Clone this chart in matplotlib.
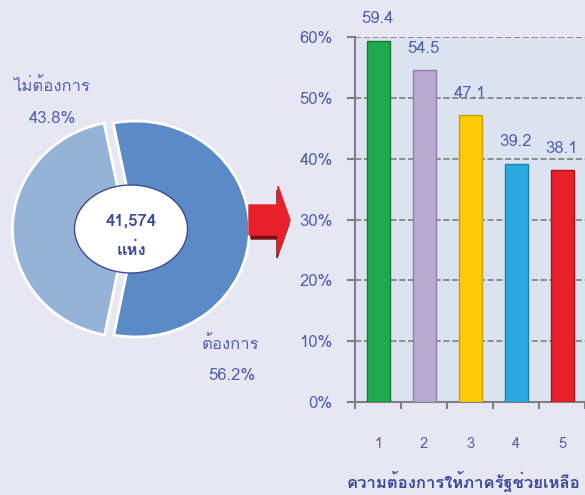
import matplotlib
matplotlib.use("Agg")
import matplotlib.pyplot as plt
from matplotlib import font_manager
from matplotlib.ft2font import FT2Font
from matplotlib.patches import Ellipse, FancyArrow

# data
pie_labels = ["ต้องการ", "ไม่ต้องการ"]
pie_values = [56.2, 43.8]
pie_colors = ["#5B8BC7", "#95B3D7"]
total_text = "41,574"
unit_text = "แห่ง"

bar_cats = ["1", "2", "3", "4", "5"]
bar_values = [59.4, 54.5, 47.1, 39.2, 38.1]
bar_colors = ["#1FAA4F", "#B9A8D0", "#FFCA08", "#2BAAE2", "#E8202A"]
bar_edges = ["#127A36", "#8E7FA5", "#C9A000", "#1A7FAE", "#A81218"]
y_ticks = [0, 10, 20, 30, 40, 50, 60]
x_title = "ความต้องการให้ภาครัฐช่วยเหลือ"

# find something that can draw Thai
thai_font = None
for f in font_manager.fontManager.ttflist:
    try:
        if 0x0E01 in FT2Font(f.fname).get_charmap():
            thai_font = f.name
            break
    except Exception:
        pass
fams = [thai_font, "DejaVu Sans"] if thai_font else ["DejaVu Sans"]
plt.rcParams["font.family"] = fams

txt = "#5262AE"
dark_txt = "#3C4A9A"
W, H = 585, 495

fig = plt.figure(figsize=(W / 100, H / 100), dpi=100)
fig.patch.set_facecolor("#E7E7F3")

def box(x0, y0, x1, y1):
    # pixel box (top-down y) -> figure fraction
    return [x0 / W, 1 - y1 / H, (x1 - x0) / W, (y1 - y0) / H]

# ---- donut / pie ----
cx, cy, rx, ry = 131, 229, 114, 108
axp = fig.add_axes(box(0, 100, 260, 360))
axp.pie(pie_values, colors=pie_colors, startangle=-101, counterclock=True,
        explode=[0.04, 0.04], wedgeprops=dict(edgecolor="white", linewidth=2))
axp.set_aspect("auto")
axp.set_xlim((0 - cx) / rx, (260 - cx) / rx)
axp.set_ylim((cy - 360) / ry, (cy - 100) / ry)
axp.axis("off")

# overlay in pixel coords
ov = fig.add_axes([0, 0, 1, 1])
ov.set_xlim(0, W)
ov.set_ylim(H, 0)
ov.axis("off")
ov.patch.set_alpha(0)

ov.add_patch(Ellipse((cx, cy), 113, 88, facecolor="white", edgecolor="#3C4A9A", lw=1))
ov.text(cx, 221, total_text, ha="center", va="center", fontsize=12,
        fontweight="bold", color=dark_txt)
ov.text(cx, 250, unit_text, ha="center", va="center", fontsize=12,
        fontweight="bold", color=dark_txt)

ov.text(52, 87, pie_labels[1], ha="center", va="center", fontsize=12, color=txt)
ov.text(52, 119, f"{pie_values[1]}%", ha="center", va="center", fontsize=12, color=txt)
ov.text(231, 345, pie_labels[0], ha="center", va="center", fontsize=12, color=txt)
ov.text(232, 376, f"{pie_values[0]}%", ha="center", va="center", fontsize=12, color=txt)

# red arrow with a dark shadow
ov.add_patch(FancyArrow(251, 224, 38, 0, width=30, head_width=68, head_length=12,
                        length_includes_head=True, color="#7A1010"))
ov.add_patch(FancyArrow(249, 220, 41, 0, width=30, head_width=68, head_length=12,
                        length_includes_head=True, color="#E8202A"))

ov.text(464, 481, x_title, ha="center", va="center", fontsize=12,
        fontweight="bold", color=dark_txt)

# ---- bars ----
ax = fig.add_axes(box(355, 37, 585, 402))
ax.set_facecolor("#DCE3F0")
x = list(range(len(bar_cats)))
ax.bar(x, bar_values, width=0.5, color=bar_colors, edgecolor=bar_edges,
       linewidth=1, zorder=3)
for xi, v in zip(x, bar_values):
    ax.text(xi, v + 2.2, f"{v}", ha="center", va="bottom", fontsize=12, color=txt, zorder=4)

ax.set_ylim(0, 60)
ax.set_xlim(-0.5, 4.5)
ax.set_yticks(y_ticks)
ax.set_yticklabels([f"{t}%" for t in y_ticks], color=txt, fontsize=12)
ax.set_xticks(x)
ax.set_xticklabels(bar_cats, color=txt, fontsize=10.5)
ax.tick_params(axis="x", length=0, pad=25)
ax.set_xticks([i - 0.5 for i in range(len(bar_cats) + 1)], minor=True)
ax.tick_params(axis="x", which="minor", length=5, color="#808080", width=1.5)
ax.tick_params(axis="y", length=6, color="#808080", width=1.5, pad=10)
ax.grid(axis="y", linestyle="--", color="#7F7F7F", linewidth=1.2, zorder=1)
for s in ["top", "right"]:
    ax.spines[s].set_visible(False)
for s in ["left", "bottom"]:
    ax.spines[s].set_color("#808080")
    ax.spines[s].set_linewidth(1.5)

fig.savefig("out.png", dpi=100, facecolor=fig.get_facecolor())
